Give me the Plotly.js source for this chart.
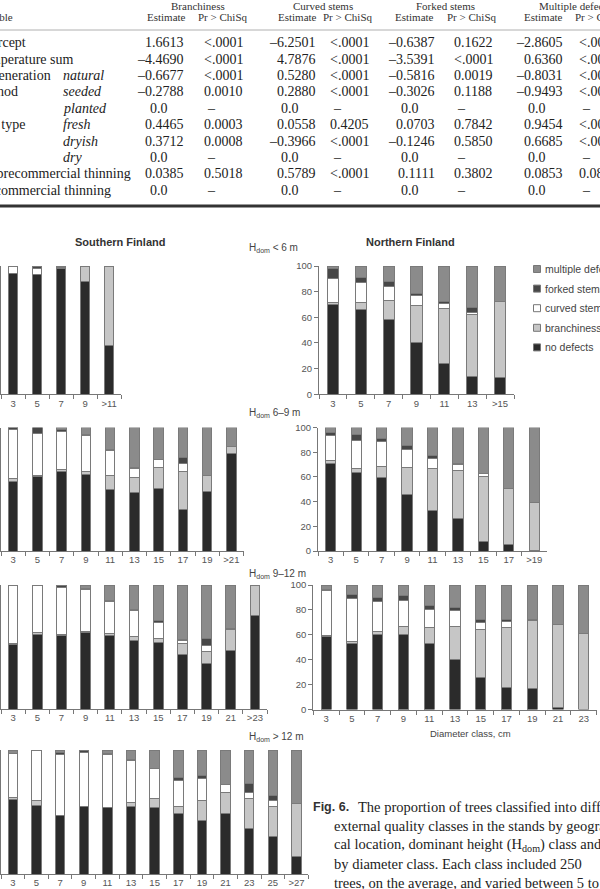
<!DOCTYPE html>
<html>
<head>
<meta charset="utf-8">
<script src="https://cdn.plot.ly/plotly-3.0.1.min.js"></script>
<style>html,body{margin:0;padding:0;background:#fff;}#chart{width:600px;height:889px;}</style>
</head>
<body>
<div id="chart"></div>
<script>
// ---------------- DATA ----------------
// Table (logistic model estimates)
const groupHeaders = ['Branchiness', 'Curved stems', 'Forked stems', 'Multiple defects'];
const rowMain = ['Intercept', 'Temperature sum', 'Regeneration', 'method', '', 'Site type', '', '', 'No precommercial thinning', 'Precommercial thinning'];
const rowSub = ['', '', 'natural', 'seeded', 'planted', 'fresh', 'dryish', 'dry', '', ''];
const branchEst = ['1.6613', '–4.4690', '–0.6677', '–0.2788', '0.0', '0.4465', '0.3712', '0.0', '0.0385', '0.0'];
const branchP = ['<.0001', '<.0001', '<.0001', '0.0010', '–', '0.0003', '0.0008', '–', '0.5018', '–'];
const curvedEst = ['–6.2501', '4.7876', '0.5280', '0.2880', '0.0', '0.0558', '–0.3966', '0.0', '0.5789', '0.0'];
const curvedP = ['<.0001', '<.0001', '<.0001', '<.0001', '–', '0.4205', '<.0001', '–', '<.0001', '–'];
const forkedEst = ['–0.6387', '–3.5391', '–0.5816', '–0.3026', '0.0', '0.0703', '–0.1246', '0.0', '0.1111', '0.0'];
const forkedP = ['0.1622', '<.0001', '0.0019', '0.1188', '–', '0.7842', '0.5850', '–', '0.3802', '–'];
const multiEst = ['–2.8605', '0.6360', '–0.8031', '–0.9493', '0.0', '0.9454', '0.6685', '0.0', '0.0853', '0.0'];
const multiP = ['<.0001', '<.0001', '<.0001', '<.0001', '–', '<.0001', '<.0001', '–', '0.08', '–'];

// Series names (stack order bottom -> top)
const seriesNames = ['no defects', 'branchiness', 'curved stems', 'forked stems', 'multiple defects'];

// Southern Finland, Hdom < 6 m
const catS1 = ['3', '5', '7', '9', '>11'];
const s1None = [94, 93, 98, 88, 38];
const s1Branch = [0.5, 0, 0, 12, 62];
const s1Curved = [5.5, 5, 0, 0, 0];
const s1Forked = [0, 2, 1, 0, 0];
const s1Multi = [0, 0, 1, 0, 0];

// Southern Finland, Hdom 6–9 m
const catS2 = ['3', '5', '7', '9', '11', '13', '15', '17', '19', '>21'];
const s2None = [56.5, 60.6, 64, 62, 49.7, 47, 50.5, 34, 47.8, 78.8];
const s2Branch = [2.2, 0.8, 1.6, 2.7, 11.7, 12.8, 16.8, 30.7, 13.6, 6.2];
const s2Curved = [40, 34, 31.5, 28.5, 19.6, 7, 6.8, 6, 0, 0];
const s2Forked = [1.3, 4.6, 1.4, 1.4, 1, 1, 0, 5.4, 0, 0];
const s2Multi = [0, 0, 1.5, 5.4, 18, 32.2, 25.9, 23.9, 38.6, 15];

// Southern Finland, Hdom 9–12 m
const catS3 = ['3', '5', '7', '9', '11', '13', '15', '17', '19', '21', '>23'];
const s3None = [52.2, 60.3, 59.5, 61.4, 59.5, 55.4, 54, 44, 37, 47.3, 75.7];
const s3Branch = [0.5, 1.1, 0.8, 0.8, 1.3, 2.7, 2.8, 8.7, 9, 16.8, 24.3];
const s3Curved = [47.3, 38.1, 37.8, 33.8, 26.2, 21.1, 12.7, 2.2, 5.4, 0, 0];
const s3Forked = [0, 0.5, 1.9, 1.3, 0.8, 1.1, 1.6, 1, 5.4, 0.5, 0];
const s3Multi = [0, 0, 0, 2.7, 12.2, 19.7, 28.9, 44.1, 43.2, 35.4, 0];

// Southern Finland, Hdom > 12 m
const catS4 = ['3', '5', '7', '9', '11', '13', '15', '17', '19', '21', '23', '25', '>27'];
const s4None = [60.2, 55.6, 46.8, 54.8, 53.5, 54.3, 53.8, 48.4, 43, 48.9, 36.3, 30.1, 14.5];
const s4Branch = [1.1, 3.5, 0, 0, 0, 3.2, 7.2, 6.4, 15.9, 16.7, 24.7, 24.7, 42];
const s4Curved = [35.5, 40.4, 49.2, 43, 42.5, 33.9, 24.2, 20.5, 18.3, 6.2, 4.6, 4.3, 0];
const s4Forked = [0.5, 0.5, 1.8, 2.2, 1.3, 1.1, 0, 2.4, 2.6, 0, 7.5, 4.1, 0];
const s4Multi = [2.7, 0, 2.2, 0, 2.7, 7.5, 14.8, 22.3, 20.2, 28.2, 26.9, 36.8, 43.5];

// Northern Finland, Hdom < 6 m
const catN1 = ['3', '5', '7', '9', '11', '13', '>15'];
const n1None = [70, 66.3, 58.3, 40.4, 24, 13.7, 13];
const n1Branch = [1.5, 5, 15, 28.6, 42.8, 48.5, 59];
const n1Curved = [18.5, 15.7, 10.9, 8.2, 3.9, 1.5, 0];
const n1Forked = [8, 4, 4.1, 1.3, 1.8, 3.7, 0];
const n1Multi = [2, 9, 11.7, 21.5, 27.5, 32.6, 28];

// Northern Finland, Hdom 6–9 m
const catN2 = ['3', '5', '7', '9', '11', '13', '15', '17', '>19'];
const n2None = [71, 63.8, 59.8, 45.8, 32.4, 26.3, 8, 5.4, 0.5];
const n2Branch = [2, 3.2, 8.8, 22, 34.1, 38.8, 52.3, 45.6, 38.5];
const n2Curved = [20.8, 22.5, 19.9, 14.2, 8, 4.6, 2.2, 0, 0];
const n2Forked = [2.2, 5.1, 2.7, 3.8, 2.7, 1.1, 0, 0, 0];
const n2Multi = [4, 5.4, 8.8, 14.2, 22.8, 29.2, 37.5, 49, 61];

// Northern Finland, Hdom 9–12 m
const catN3 = ['3', '5', '7', '9', '11', '13', '15', '17', '19', '21', '23'];
const n3None = [58.7, 52.8, 60.5, 60.5, 52.8, 40, 26, 18, 16.5, 2, 0];
const n3Branch = [1, 1.9, 2.2, 6.2, 13.3, 26.7, 38, 48.1, 55, 66.5, 61.3];
const n3Curved = [35.8, 34.6, 24, 20.8, 13.9, 12.5, 6.1, 4.6, 0, 0, 0];
const n3Forked = [1, 2.7, 3.4, 3.7, 3.2, 2.9, 2.4, 1.8, 0.5, 0, 0];
const n3Multi = [3.5, 8, 9.9, 8.8, 16.8, 17.9, 27.5, 27.5, 28, 31.5, 38.7];

const yTicks = [0, 20, 40, 60, 80, 100];

// ---------------- STYLE / LAYOUT ----------------
const W = 600, H = 889;
const px = v => v / W;
const py = v => 1 - v / H;
const seriesColors = ['#2b2b2b', '#c6c6c6', '#ffffff', '#474747', '#8b8b8b'];
const barLine = '#7a7a7a';
const sans = 'Liberation Sans, Arial, sans-serif';
const serif = 'Liberation Serif, Times New Roman, serif';

const panels = [
  { cats: catS1, vals: [s1None, s1Branch, s1Curved, s1Forked, s1Multi], x: [1, 121.2], y: [266, 394.3], labels: false },
  { cats: catS2, vals: [s2None, s2Branch, s2Curved, s2Forked, s2Multi], x: [1, 243.5], y: [427.5, 551], labels: false },
  { cats: catS3, vals: [s3None, s3Branch, s3Curved, s3Forked, s3Multi], x: [1, 267], y: [585, 709], labels: false },
  { cats: catS4, vals: [s4None, s4Branch, s4Curved, s4Forked, s4Multi], x: [1, 308.3], y: [750, 874], labels: false },
  { cats: catN1, vals: [n1None, n1Branch, n1Curved, n1Forked, n1Multi], x: [319, 514], y: [266, 394.3], labels: true },
  { cats: catN2, vals: [n2None, n2Branch, n2Curved, n2Forked, n2Multi], x: [318, 547], y: [427.5, 551], labels: true },
  { cats: catN3, vals: [n3None, n3Branch, n3Curved, n3Forked, n3Multi], x: [313.3, 596.7], y: [585, 709.5], labels: true }
];

const traces = [];
const layout = {
  width: W, height: H,
  margin: { l: 0, r: 0, t: 0, b: 0 },
  paper_bgcolor: '#ffffff', plot_bgcolor: 'rgba(0,0,0,0)',
  barmode: 'stack', bargap: 0.6,
  showlegend: false,
  annotations: [], shapes: []
};

panels.forEach((p, i) => {
  const k = i === 0 ? '' : String(i + 1);
  p.vals.forEach((v, s) => {
    traces.push({
      type: 'bar', x: p.cats, y: v, name: seriesNames[s],
      xaxis: 'x' + k, yaxis: 'y' + k,
      marker: { color: seriesColors[s], line: { color: barLine, width: 1 } },
      showlegend: false, hoverinfo: 'x+y+name'
    });
  });
  layout['xaxis' + k] = {
    domain: [px(p.x[0]), px(p.x[1])], anchor: 'y' + k,
    type: 'category', range: [-0.5, p.cats.length - 0.5],
    tickson: 'boundaries', ticks: 'outside', ticklen: 4, tickcolor: '#777', tickwidth: 1,
    tickangle: 0,
    showline: true, linecolor: '#777', linewidth: 1,
    showgrid: false, zeroline: false, fixedrange: true,
    tickfont: { family: sans, size: 9.5, color: '#555' }
  };
  layout['yaxis' + k] = {
    domain: [py(p.y[1]), py(p.y[0])], anchor: 'x' + k,
    range: [0, 100], tickvals: yTicks, ticks: 'outside', ticklen: 4, tickcolor: '#777', tickwidth: 1,
    showline: true, linecolor: '#777', linewidth: 1,
    showgrid: false, zeroline: false, fixedrange: true,
    showticklabels: p.labels,
    tickfont: { family: sans, size: 9.5, color: '#555' }
  };
});

const A = layout.annotations;
function txt(x, y, text, opt) {
  A.push(Object.assign({
    xref: 'paper', yref: 'paper', x: px(x), y: py(y), text: text, showarrow: false,
    xanchor: 'left', yanchor: 'middle', font: { family: serif, size: 14, color: '#222' }
  }, opt || {}));
}

// ---- Table ----
const hdrFont = { family: serif, size: 11, color: '#333' };
const groupCenters = [198, 323.4, 445.8, 537];
groupHeaders.forEach((g, i) => {
  if (i < 3) txt(groupCenters[i], 5.5, g, { xanchor: 'center', font: hdrFont });
  else txt(groupCenters[i], 5.5, g, { xanchor: 'left', font: hdrFont });
});
const estCenters = [166.9, 297.7, 414.8, 543.8];
const pCenters = [222, 347.9, 471.5, 600];
estCenters.forEach((c, i) => {
  txt(c, 17, 'Estimate', { xanchor: 'center', font: hdrFont });
  if (i < 3) txt(pCenters[i], 17, 'Pr &gt; ChiSq', { xanchor: 'center', font: hdrFont });
  else txt(573, 17, 'Pr &gt; ChiSq', { xanchor: 'left', font: hdrFont });
});
txt(-26, 17, 'Variable', { font: hdrFont });

const estRight = [186.4, 317.6, 437, 564.5];
const pLeft = [201.7, 328.4, 451.6, 577];
const estCols = [branchEst, curvedEst, forkedEst, multiEst];
const pCols = [branchP, curvedP, forkedP, multiP];
const esc = s => s.replace(/</g, '&lt;').replace(/>/g, '&gt;');
rowMain.forEach((lab, r) => {
  const y = 42.7 + r * 16.4;
  if (lab) txt(-26, y, lab);
  if (rowSub[r]) txt(60.5, y, '<i>' + rowSub[r] + '</i>');
  estCols.forEach((col, c) => {
    const v = col[r];
    if (v.length <= 3) txt(estRight[c] - 38.5, y, v);
    else txt(estRight[c], y, v, { xanchor: 'right' });
    txt(pLeft[c] + (pCols[c][r] === '–' ? 3 : 0), y, esc(pCols[c][r]));
  });
});
layout.shapes.push({ type: 'line', xref: 'paper', yref: 'paper', x0: 0, x1: 1, y0: py(30), y1: py(30), line: { color: '#b0b0b0', width: 1 } });
layout.shapes.push({ type: 'line', xref: 'paper', yref: 'paper', x0: 0, x1: 1, y0: py(206), y1: py(206), line: { color: '#333', width: 3 } });

// ---- Figure titles / labels ----
const titleFont = { family: sans, size: 11, color: '#333' };
txt(120, 242, '<b>Southern Finland</b>', { xanchor: 'center', font: titleFont });
txt(410, 242, '<b>Northern Finland</b>', { xanchor: 'center', font: titleFont });
const hFont = { family: sans, size: 10, color: '#444' };
txt(247, 248, 'H<sub>dom</sub> &lt; 6 m', { font: hFont });
txt(247, 413, 'H<sub>dom</sub> 6–9 m', { font: hFont });
txt(247, 574, 'H<sub>dom</sub> 9–12 m', { font: hFont });
txt(247, 737, 'H<sub>dom</sub> &gt; 12 m', { font: hFont });
txt(470, 733, 'Diameter class, cm', { xanchor: 'center', font: { family: sans, size: 9.5, color: '#444' } });

// ---- Legend (top item = last series) ----
const legY = [347.4, 327.8, 308.2, 288.6, 269];
seriesNames.forEach((n, s) => {
  layout.shapes.push({ type: 'rect', xref: 'paper', yref: 'paper',
    x0: px(533.5), x1: px(540.5), y0: py(legY[s] + 3.5), y1: py(legY[s] - 3.5),
    fillcolor: seriesColors[s], line: { color: '#777', width: 1 } });
  txt(542.5, legY[s], n, { font: { family: sans, size: 10.5, color: '#444' } });
});

// ---- Caption ----
const capFont = { family: serif, size: 14.5, color: '#222' };
txt(310.5, 807, '<b>Fig. 6.</b>', { font: { family: sans, size: 12.5, color: '#333' } });
txt(356, 807, 'The proportion of trees classified into different', { font: capFont });
txt(332.3, 826, 'external quality classes in the stands by geographi-', { font: capFont });
txt(332.3, 845, 'cal location, dominant height (H<sub>dom</sub>) class and', { font: capFont });
txt(332.3, 864, 'by diameter class. Each class included 250', { font: capFont });
txt(332.3, 883, 'trees, on the average, and varied between 5 to', { font: capFont });

Plotly.newPlot('chart', traces, layout, { staticPlot: true, displayModeBar: false });
</script>
</body>
</html>
